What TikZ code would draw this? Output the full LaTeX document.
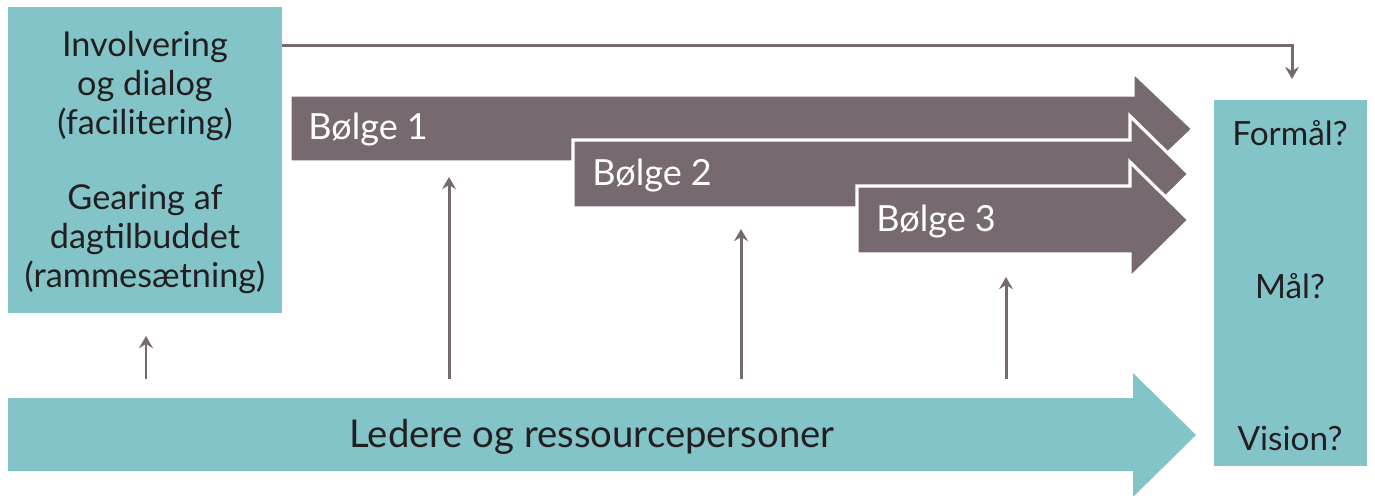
\documentclass[tikz,border=0pt]{standalone}
\usepackage{fontspec}
\setmainfont{Lato}
\usetikzlibrary{positioning,arrows.meta}

\definecolor{turkis}{HTML}{82C4C8}
\definecolor{graalilla}{HTML}{766A70}
\definecolor{tekstsort}{HTML}{231F20}

\tikzset{
	tekst/.style={text=tekstsort, font=\fontsize{19.5}{22}\selectfont, align=center, inner sep=0pt},
	boelge/.style={fill=graalilla, draw=white, line width=1.8pt, line join=miter},
	boelgetekst/.style={text=white, font=\fontsize{20.5}{22}\selectfont, anchor=west, inner sep=0pt},
	pil/.style={draw=graalilla, line width=1.7pt, -{Stealth[length=7pt,width=8pt,inset=2.5pt]}}
}

\begin{document}
\begin{tikzpicture}[x=0.02cm, y=-0.02cm]

		\useasboundingbox (0,0) rectangle (1375,495);

		% kasser
		\fill[turkis] (8,7) rectangle (282,313);
		\fill[turkis] (1214,100) rectangle (1367,466);

		\node[tekst] (involvering) at (145,86) {Involvering\\og dialog\\(facilitering)};
		\node[tekst] (gearing) at (145,239) {Gearing af\\dagtilbuddet\\(rammesætning)};

		\node[tekst, font=\fontsize{19}{22}\selectfont] (formaal) at (1290,133) {Formål?};
		\node[tekst, font=\fontsize{19}{22}\selectfont] (maal) at (1290,286) {Mål?};
		\node[tekst, font=\fontsize{19}{22}\selectfont] (vision) at (1290,438) {Vision?};

		% bølger
		\draw[boelge] (290,95) -- (1133,95) -- (1133,72) -- (1193,129) -- (1133,186) -- (1133,162) -- (290,162) -- cycle;
		\draw[boelge] (573,140) -- (1130,140) -- (1130,116) -- (1189,174) -- (1130,232) -- (1130,208) -- (573,208) -- cycle;
		\draw[boelge] (857,186) -- (1130,186) -- (1130,162) -- (1189,220) -- (1130,278) -- (1130,254) -- (857,254) -- cycle;

		\node[boelgetekst] (boelge1) at (308,130) {Bølge 1};
		\node[boelgetekst] (boelge2) at (592,176) {Bølge 2};
		\node[boelgetekst] (boelge3) at (876,222) {Bølge 3};

		% ledere
		\fill[turkis] (8,398) -- (1133,398) -- (1133,373) -- (1196,435) -- (1133,497) -- (1133,471) -- (8,471) -- cycle;
		\node[tekst, font=\fontsize{21.8}{22}\selectfont] (ledere) at (592,437) {Ledere og ressourcepersoner};

		% pile
		\coordinate (top) at (282,45);
		\coordinate (knaek) at (1292,45);
		\coordinate (formaaltop) at (1292,79);
		\draw[pil] (top) -- (knaek) -- (formaaltop);

		\coordinate (p0) at (146,379);
		\coordinate (p0top) at (146,336);
		\draw[pil] (p0) -- (p0top);

		\coordinate (p1) at (449,379);
		\coordinate (p1top) at (449,177);
		\draw[pil] (p1) -- (p1top);

		\coordinate (p2) at (741,379);
		\coordinate (p2top) at (741,229);
		\draw[pil] (p2) -- (p2top);

		\coordinate (p3) at (1006,379);
		\coordinate (p3top) at (1006,277);
		\draw[pil] (p3) -- (p3top);

	\end{tikzpicture}
\end{document}
